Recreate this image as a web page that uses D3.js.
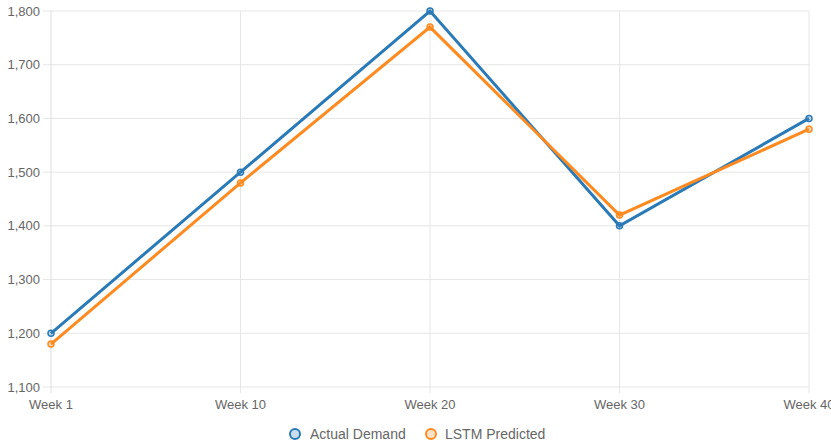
<!DOCTYPE html>
<html>
<head>
<meta charset="utf-8">
<script src="https://cdn.jsdelivr.net/npm/d3@7"></script>
<style>
  html, body { margin: 0; padding: 0; background: #fff; overflow: hidden; }
  svg { display: block; overflow: visible; }
  text { font-family: "Liberation Sans", Arial, sans-serif; }
</style>
</head>
<body>
<svg id="chart" width="831" height="447"></svg>
<script>
// Weekly demand: actual vs. LSTM forecast
const weeks = ["Week 1", "Week 10", "Week 20", "Week 30", "Week 40"];
const actualDemand = [1200, 1500, 1800, 1400, 1600];
const lstmPredicted = [1180, 1480, 1770, 1420, 1580];
const yTicks = [1100, 1200, 1300, 1400, 1500, 1600, 1700, 1800];

const seriesNames = ["Actual Demand", "LSTM Predicted"];
const seriesColors = ["#2a7ab8", "#ff8a1f"];
const seriesFills = ["rgba(42,122,184,0.25)", "rgba(255,138,31,0.25)"];

const svg = d3.select("#chart");
const margin = { left: 51, right: 22, top: 11, bottom: 60 };
const W = 831, H = 447;

const x = d3.scalePoint().domain(weeks).range([margin.left, W - margin.right]);
const y = d3.scaleLinear().domain([1100, 1800]).range([H - margin.bottom, margin.top]);

const fmt = d3.format(",");

// horizontal grid
svg.append("g")
  .selectAll("line")
  .data(yTicks)
  .join("line")
  .attr("x1", margin.left - 8)
  .attr("x2", W - margin.right)
  .attr("y1", d => y(d))
  .attr("y2", d => y(d))
  .attr("stroke", "#e6e6e6")
  .attr("stroke-width", 1);

// vertical grid
svg.append("g")
  .selectAll("line")
  .data(weeks)
  .join("line")
  .attr("x1", d => x(d))
  .attr("x2", d => x(d))
  .attr("y1", margin.top)
  .attr("y2", H - margin.bottom + 6)
  .attr("stroke", d => d === weeks[0] ? "#dcdcdc" : "#e6e6e6")
  .attr("stroke-width", 1);

// y tick labels
svg.append("g")
  .selectAll("text")
  .data(yTicks)
  .join("text")
  .attr("x", margin.left - 11)
  .attr("y", d => y(d))
  .attr("dy", "0.35em")
  .attr("text-anchor", "end")
  .attr("font-size", 13)
  .attr("fill", "#666")
  .text(d => fmt(d));

// x tick labels
svg.append("g")
  .selectAll("text")
  .data(weeks)
  .join("text")
  .attr("x", d => x(d))
  .attr("y", H - margin.bottom + 22)
  .attr("text-anchor", "middle")
  .attr("font-size", 13)
  .attr("fill", "#666")
  .text(d => d);

const line = d3.line().x((d, i) => x(weeks[i])).y(d => y(d));

[actualDemand, lstmPredicted].forEach((vals, s) => {
  const g = svg.append("g");
  g.append("path")
    .datum(vals)
    .attr("d", line)
    .attr("fill", "none")
    .attr("stroke", seriesColors[s])
    .attr("stroke-width", 3)
    .attr("stroke-linejoin", "miter");
  g.selectAll("circle")
    .data(vals)
    .join("circle")
    .attr("cx", (d, i) => x(weeks[i]))
    .attr("cy", d => y(d))
    .attr("r", 3)
    .attr("fill", seriesFills[s])
    .attr("stroke", seriesColors[s])
    .attr("stroke-width", 1.5);
});

// legend
const legendY = 434;
const legendItems = [
  { name: seriesNames[0], cx: 295, tx: 310 },
  { name: seriesNames[1], cx: 431, tx: 445 }
];
const lg = svg.append("g");
legendItems.forEach((it, s) => {
  lg.append("circle")
    .attr("cx", it.cx)
    .attr("cy", legendY)
    .attr("r", 5)
    .attr("fill", seriesFills[s])
    .attr("stroke", seriesColors[s])
    .attr("stroke-width", 2);
  lg.append("text")
    .attr("x", it.tx)
    .attr("y", legendY)
    .attr("dy", "0.35em")
    .attr("font-size", 14)
    .attr("fill", "#666")
    .text(it.name);
});
</script>
</body>
</html>
